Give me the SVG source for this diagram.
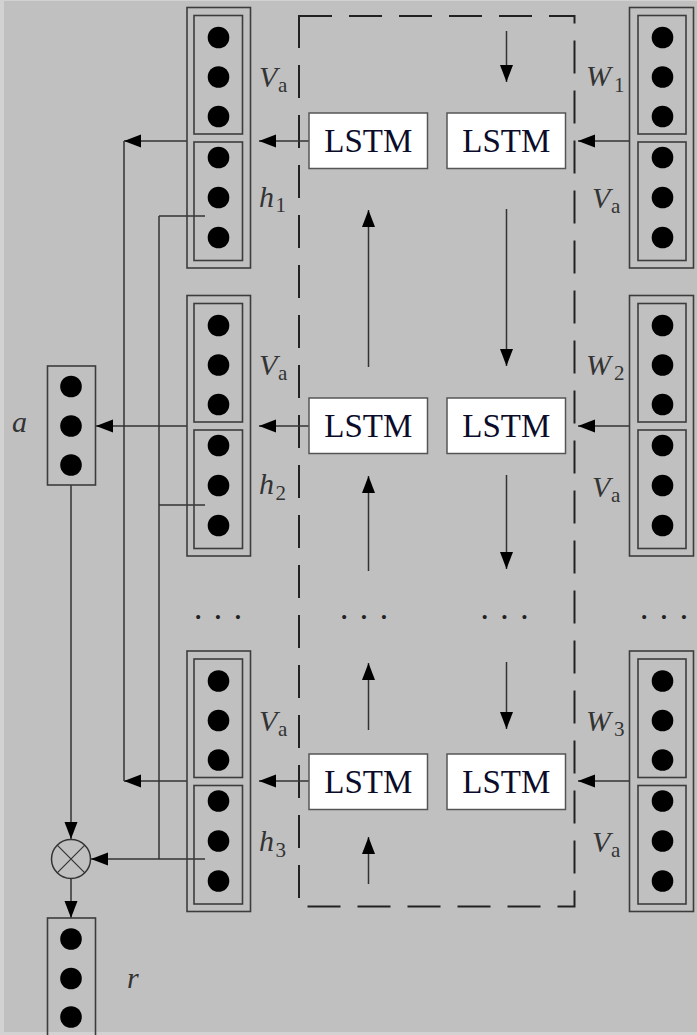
<svg xmlns="http://www.w3.org/2000/svg" width="697" height="1035" viewBox="0 0 697 1035">
<defs>
<style>
.outer{fill:none;stroke:#3c3c3c;stroke-width:1.6}
.inner{fill:none;stroke:#3c3c3c;stroke-width:1.6}
.dot{fill:#000}
.lstm{fill:#fff;stroke:#555;stroke-width:1.5}
.lt{font-family:'Liberation Serif','Times New Roman',serif;font-size:33px;fill:#0b0b2a;text-anchor:middle}
.it{font-family:'Liberation Serif','Times New Roman',serif;font-size:30px;font-style:italic;fill:#333}
.sub{font-family:'Liberation Serif','Times New Roman',serif;font-size:21px;fill:#333}
.ell{font-family:'Liberation Serif','Times New Roman',serif;font-size:34px;fill:#222;text-anchor:middle}
.ln{fill:none;stroke:#333;stroke-width:1.5}
.arr{fill:none;stroke:#333;stroke-width:1.5;marker-end:url(#ah)}
.dash{fill:none;stroke:#222;stroke-width:2;stroke-dasharray:33 17}
</style>
<marker id="ah" markerUnits="userSpaceOnUse" markerWidth="18" markerHeight="14" refX="17" refY="6.5" orient="auto">
<path d="M0,0 L17,6.5 L0,13 Z" fill="#000"/>
</marker>
</defs>
<rect x="0" y="0" width="697" height="1035" fill="#d2d2d2"/>
<rect x="4" y="1" width="693" height="1031" fill="#c0c0c0"/>

<g id="lstm-block">
<path class="dash" d="M299,16 H574.5 V906.5 H299 Z"/>
</g>

<g id="connectors">
<line class="arr" x1="309" y1="141" x2="259" y2="141"/>
<line class="arr" x1="187" y1="141" x2="124" y2="141"/>
<line class="arr" x1="629.5" y1="141" x2="578" y2="141"/>
<line class="arr" x1="309" y1="426" x2="259" y2="426"/>
<line class="arr" x1="187" y1="426" x2="96" y2="426"/>
<line class="arr" x1="629.5" y1="426" x2="578" y2="426"/>
<line class="arr" x1="309" y1="781" x2="259" y2="781"/>
<line class="arr" x1="187" y1="781" x2="124" y2="781"/>
<line class="arr" x1="629.5" y1="781" x2="578" y2="781"/>
<line class="ln" x1="124" y1="141" x2="124" y2="781"/>
<line class="ln" x1="159" y1="216" x2="159" y2="859"/>
<line class="ln" x1="159" y1="216" x2="205" y2="216"/>
<line class="ln" x1="159" y1="505" x2="205" y2="505"/>
<line class="arr" x1="205" y1="859" x2="91" y2="859"/>
<line class="arr" x1="71" y1="485" x2="71" y2="839"/>
<line class="arr" x1="71" y1="878.5" x2="71" y2="918"/>
<line class="arr" x1="368.5" y1="367" x2="368.5" y2="210"/>
<line class="arr" x1="368.5" y1="571" x2="368.5" y2="476"/>
<line class="arr" x1="368.5" y1="730" x2="368.5" y2="663"/>
<line class="arr" x1="368.5" y1="884" x2="368.5" y2="837"/>
<line class="arr" x1="506.5" y1="31" x2="506.5" y2="82"/>
<line class="arr" x1="506.5" y1="209" x2="506.5" y2="366"/>
<line class="arr" x1="506.5" y1="475" x2="506.5" y2="569"/>
<line class="arr" x1="506.5" y1="662" x2="506.5" y2="729"/>
</g>

<g id="lstm-b1"><rect class="lstm" x="309" y="113" width="118.5" height="55.5"/><text class="lt" x="368.3" y="152">LSTM</text></g>
<g id="lstm-f1"><rect class="lstm" x="447" y="113" width="118.5" height="55.5"/><text class="lt" x="506.3" y="152">LSTM</text></g>
<g id="lstm-b2"><rect class="lstm" x="309" y="398" width="118.5" height="55.5"/><text class="lt" x="368.3" y="437">LSTM</text></g>
<g id="lstm-f2"><rect class="lstm" x="447" y="398" width="118.5" height="55.5"/><text class="lt" x="506.3" y="437">LSTM</text></g>
<g id="lstm-b3"><rect class="lstm" x="309" y="754" width="118.5" height="55.5"/><text class="lt" x="368.3" y="792.5">LSTM</text></g>
<g id="lstm-f3"><rect class="lstm" x="447" y="754" width="118.5" height="55.5"/><text class="lt" x="506.3" y="792.5">LSTM</text></g>

<g id="left-1">
<rect class="outer" x="187" y="7.5" width="63.5" height="260.5"/>
<rect class="inner" x="194" y="15.5" width="48.5" height="118.5"/>
<rect class="inner" x="194" y="142" width="48.5" height="118.5"/>
<circle class="dot" cx="218.5" cy="37.5" r="10.8"/><circle class="dot" cx="218.5" cy="77" r="10.8"/><circle class="dot" cx="218.5" cy="116.5" r="10.8"/>
<circle class="dot" cx="218.5" cy="157.5" r="10.8"/><circle class="dot" cx="218.5" cy="197.5" r="10.8"/><circle class="dot" cx="218.5" cy="237.5" r="10.8"/>
<text class="it" x="259" y="87">V</text><text class="sub" x="278" y="92">a</text>
<text class="it" x="259" y="206.5">h</text><text class="sub" x="275.5" y="212">1</text>
</g>
<g id="left-2">
<rect class="outer" x="187" y="295.5" width="63.5" height="260.5"/>
<rect class="inner" x="194" y="303.5" width="48.5" height="118.5"/>
<rect class="inner" x="194" y="430" width="48.5" height="118.5"/>
<circle class="dot" cx="218.5" cy="325.5" r="10.8"/><circle class="dot" cx="218.5" cy="365" r="10.8"/><circle class="dot" cx="218.5" cy="404.5" r="10.8"/>
<circle class="dot" cx="218.5" cy="445.5" r="10.8"/><circle class="dot" cx="218.5" cy="485.5" r="10.8"/><circle class="dot" cx="218.5" cy="525.5" r="10.8"/>
<text class="it" x="259" y="375">V</text><text class="sub" x="278" y="380">a</text>
<text class="it" x="259" y="494">h</text><text class="sub" x="275.5" y="500">2</text>
</g>
<g id="left-3">
<rect class="outer" x="187" y="651" width="63.5" height="260.5"/>
<rect class="inner" x="194" y="659" width="48.5" height="118.5"/>
<rect class="inner" x="194" y="785.5" width="48.5" height="118.5"/>
<circle class="dot" cx="218.5" cy="681" r="10.8"/><circle class="dot" cx="218.5" cy="720.5" r="10.8"/><circle class="dot" cx="218.5" cy="760" r="10.8"/>
<circle class="dot" cx="218.5" cy="801" r="10.8"/><circle class="dot" cx="218.5" cy="841" r="10.8"/><circle class="dot" cx="218.5" cy="881" r="10.8"/>
<text class="it" x="259" y="730.5">V</text><text class="sub" x="278" y="735.5">a</text>
<text class="it" x="259" y="851">h</text><text class="sub" x="275.5" y="857">3</text>
</g>

<g id="right-1">
<rect class="outer" x="629.5" y="7.5" width="64" height="260.5"/>
<rect class="inner" x="638" y="15.5" width="48" height="118.5"/>
<rect class="inner" x="638" y="142" width="48" height="118.5"/>
<circle class="dot" cx="662.5" cy="37.5" r="10.8"/><circle class="dot" cx="662.5" cy="77" r="10.8"/><circle class="dot" cx="662.5" cy="116.5" r="10.8"/>
<circle class="dot" cx="662.5" cy="157.5" r="10.8"/><circle class="dot" cx="662.5" cy="197.5" r="10.8"/><circle class="dot" cx="662.5" cy="237.5" r="10.8"/>
<text class="it" x="586" y="86">W</text><text class="sub" x="614" y="91.5">1</text>
<text class="it" x="592" y="208">V</text><text class="sub" x="611" y="213">a</text>
</g>
<g id="right-2">
<rect class="outer" x="629.5" y="295.5" width="64" height="260.5"/>
<rect class="inner" x="638" y="303.5" width="48" height="118.5"/>
<rect class="inner" x="638" y="430" width="48" height="118.5"/>
<circle class="dot" cx="662.5" cy="325.5" r="10.8"/><circle class="dot" cx="662.5" cy="365" r="10.8"/><circle class="dot" cx="662.5" cy="404.5" r="10.8"/>
<circle class="dot" cx="662.5" cy="445.5" r="10.8"/><circle class="dot" cx="662.5" cy="485.5" r="10.8"/><circle class="dot" cx="662.5" cy="525.5" r="10.8"/>
<text class="it" x="586" y="375">W</text><text class="sub" x="614" y="380">2</text>
<text class="it" x="592" y="496.5">V</text><text class="sub" x="611" y="501.5">a</text>
</g>
<g id="right-3">
<rect class="outer" x="629.5" y="651" width="64" height="260.5"/>
<rect class="inner" x="638" y="659" width="48" height="118.5"/>
<rect class="inner" x="638" y="785.5" width="48" height="118.5"/>
<circle class="dot" cx="662.5" cy="681" r="10.8"/><circle class="dot" cx="662.5" cy="720.5" r="10.8"/><circle class="dot" cx="662.5" cy="760" r="10.8"/>
<circle class="dot" cx="662.5" cy="801" r="10.8"/><circle class="dot" cx="662.5" cy="841" r="10.8"/><circle class="dot" cx="662.5" cy="881" r="10.8"/>
<text class="it" x="586" y="730.5">W</text><text class="sub" x="614" y="736">3</text>
<text class="it" x="592" y="851.5">V</text><text class="sub" x="611" y="856.5">a</text>
</g>

<g id="ellipses">
<text class="ell" x="218" y="628">· · ·</text>
<text class="ell" x="364" y="628">· · ·</text>
<text class="ell" x="504.5" y="628">· · ·</text>
<text class="ell" x="664" y="628">· · ·</text>
</g>

<g id="alpha">
<rect class="outer" x="47.5" y="366" width="48" height="119"/>
<circle class="dot" cx="71" cy="386.5" r="10.8"/><circle class="dot" cx="71" cy="426" r="10.8"/><circle class="dot" cx="71" cy="465" r="10.8"/>
<text class="it" x="12" y="432">a</text>
</g>

<g id="multiply">
<circle cx="71" cy="859" r="19.5" fill="none" stroke="#333" stroke-width="1.5"/>
<path d="M57.2,845.2 L84.8,872.8 M84.8,845.2 L57.2,872.8" stroke="#333" stroke-width="1.2" fill="none"/>
</g>

<g id="r-node">
<rect class="outer" x="47.5" y="918" width="48" height="130"/>
<circle class="dot" cx="71" cy="939" r="10.8"/><circle class="dot" cx="71" cy="978.5" r="10.8"/><circle class="dot" cx="71" cy="1017" r="10.8"/>
<text class="it" x="127" y="988">r</text>
</g>
</svg>
